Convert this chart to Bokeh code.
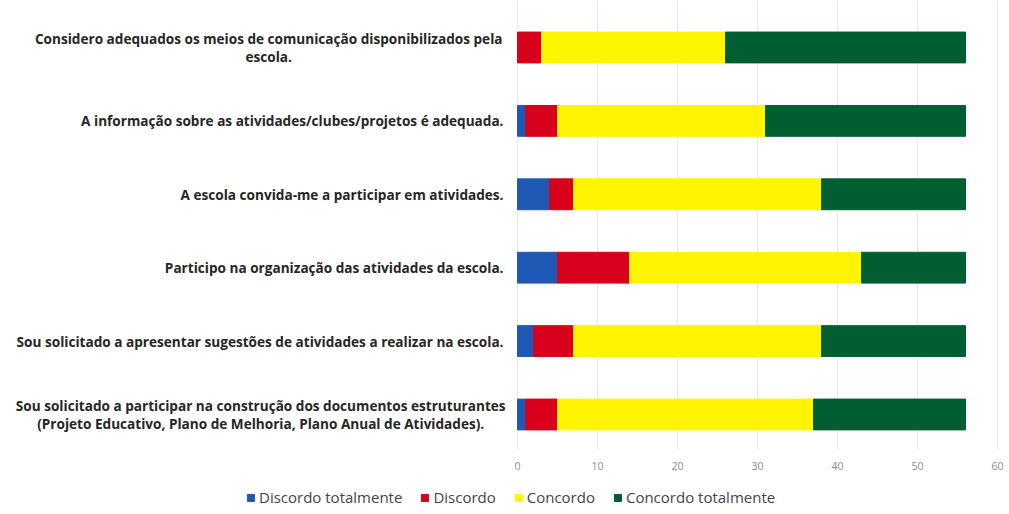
from bokeh.plotting import figure
from bokeh.models import ColumnDataSource, Legend, Label, Range1d
from bokeh.embed import file_html
from bokeh.resources import INLINE

categories = [
    "Considero adequados os meios de comunicação disponibilizados pela\nescola.",
    "A informação sobre as atividades/clubes/projetos é adequada.",
    "A escola convida-me a participar em atividades.",
    "Participo na organização das atividades da escola.",
    "Sou solicitado a apresentar sugestões de atividades a realizar na escola.",
    "Sou solicitado a participar na construção dos documentos estruturantes\n(Projeto Educativo, Plano de Melhoria, Plano Anual de Atividades).",
]
series_names = ["Discordo totalmente", "Discordo", "Concordo", "Concordo totalmente"]
discordo_totalmente = [0, 1, 4, 5, 2, 1]
discordo = [3, 4, 3, 9, 5, 4]
concordo = [23, 26, 31, 29, 31, 32]
concordo_totalmente = [30, 25, 18, 13, 18, 19]
x_ticks = [0, 10, 20, 30, 40, 50, 60]
colors = ["#1F58B5", "#D9001B", "#FFF500", "#005E32"]

n = len(categories)
ypos = [n - 1 - i for i in range(n)]  # first category on top

source = ColumnDataSource(dict(
    y=ypos,
    **{series_names[0]: discordo_totalmente,
       series_names[1]: discordo,
       series_names[2]: concordo,
       series_names[3]: concordo_totalmente},
))

# whole canvas is the frame: 8 px per unit in x, 73.4 px per category in y
p = figure(width=1009, height=512, output_backend="svg", toolbar_location=None,
           x_range=Range1d(-64.625, 61.5), y_range=Range1d(-1.335, 5.64),
           min_border=0)
p.outline_line_color = None
p.xaxis.visible = False
p.yaxis.visible = False
p.xgrid.grid_line_color = None
p.ygrid.grid_line_color = None

# vertical grid lines at the tick values
p.segment(x0=x_ticks, x1=x_ticks, y0=-0.49, y1=5.64, line_color="#E8E8E8", line_width=1)

renderers = p.hbar_stack(series_names, y="y", height=0.42, color=colors, source=source)

# x tick labels
p.text(x=x_ticks, y=-0.705, text=[str(t) for t in x_ticks], text_align="center",
       text_baseline="middle", text_font={"value": "Open Sans"}, text_font_size="10.5px",
       text_color="#8C8C8C")

legend = Legend(items=[(nm, [r]) for nm, r in zip(series_names, renderers)],
                orientation="horizontal", location=(246, 5))
legend.label_text_font = "Open Sans"
legend.label_text_font_size = "15px"
legend.label_text_color = "#444444"
legend.glyph_width = 9
legend.glyph_height = 9
legend.spacing = 18
legend.border_line_color = None
legend.background_fill_alpha = 0
legend.padding = 2
legend.margin = 0
legend.label_standoff = 4
p.add_layout(legend)

centers = {categories[0]: -31.1, categories[-1]: -32.1}
for cat, yv in zip(categories, ypos):
    multi = "\n" in cat
    p.add_layout(Label(x=centers.get(cat, -1.75), y=yv,
                       text=cat, text_align="center" if multi else "right",
                       text_baseline="middle", text_font="Open Sans",
                       text_font_size="13.6px", text_font_style="bold",
                       text_color="#262626", text_line_height=0.95))

open("out.html", "w").write(file_html(p, INLINE))
